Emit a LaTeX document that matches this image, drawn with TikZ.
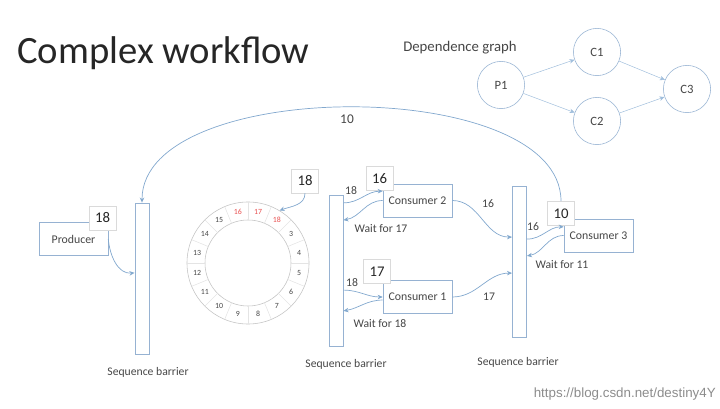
\documentclass[tikz,border=0pt]{standalone}
\usepackage{fontspec}
\setmainfont{Carlito}
\newfontfamily\urlfont{Liberation Sans}
\usetikzlibrary{arrows.meta,calc}
\definecolor{boxline}{RGB}{150,178,210}
\definecolor{arrowc}{RGB}{130,168,206}
\definecolor{depc}{RGB}{160,190,220}
\definecolor{txt}{RGB}{70,70,70}
\definecolor{numline}{RGB}{218,218,218}
\definecolor{ringc}{RGB}{195,195,195}
\definecolor{ringred}{RGB}{232,80,80}

\begin{document}
\begin{tikzpicture}[x=0.025cm, y=0.025cm,
    every node/.style={text=txt, inner sep=0pt},
    worker/.style={rectangle, draw=boxline, fill=white, minimum width=1.725cm, minimum height=0.83cm, font=\fontsize{8.4}{10}\selectfont},
    seqno/.style={rectangle, draw=numline, fill=white, minimum width=0.68cm, minimum height=0.6cm, text=black!85, font=\fontsize{10.5}{12}\selectfont},
    barrier/.style={rectangle, draw=boxline, minimum width=0.36cm, minimum height=3.78cm},
    dep/.style={circle, draw=boxline, minimum size=1.18cm, font=\fontsize{9}{11}\selectfont},
    link/.style={-{Stealth[length=3.6pt,width=3.2pt]}, draw=arrowc, line width=0.5pt},
    thin link/.style={link, draw=depc, line width=0.35pt},
    lbl/.style={font=\fontsize{8.3}{10}\selectfont},
    ringno/.style={font=\fontsize{5.6}{6}\selectfont}]
    \useasboundingbox (0, 0) rectangle (720, 408);

    \node (T) [anchor=base west, text=black!85, font=\fontsize{27.5}{30}\selectfont] at (17, 344) {Complex workflow};

    \node (G) [lbl, font=\fontsize{10.5}{12}\selectfont] at (460, 360) {Dependence graph};
    \node (P1) [dep] at (501, 323) {P1};
    \node (C1) [dep] at (597, 356) {C1};
    \node (C2) [dep] at (597, 287) {C2};
    \node (C3) [dep] at (687, 319) {C3};
    \draw [thin link] (P1) -- (C1);
    \draw [thin link] (P1) -- (C2);
    \draw [thin link] (C1) -- (C3);
    \draw [thin link] (C2) -- (C3);

    \node (B1) [barrier] at (142, 129.5) {};
    \node (B2) [barrier] at (336, 137.5) {};
    \node (B3) [barrier] at (519.5, 146.5) {};
    \node (L1) [lbl] at (148, 36) {Sequence barrier};
    \node (L2) [lbl] at (346, 44) {Sequence barrier};
    \node (L3) [lbl] at (518, 46) {Sequence barrier};

    \node (R) [circle, draw=ringc, minimum size=3.05cm] at (248, 145) {};
    \node (Ri) [circle, draw=ringc, minimum size=2.15cm] at (248, 145) {};
    \foreach \a in {0, 22.5, ..., 337.5}
        \draw [ringc!45] ($(R)+(\a:43)$) -- ($(R)+(\a:61)$);
    \foreach \n/\c [count=\i from 0] in {16/ringred, 17/ringred, 18/ringred, 3/txt, 4/txt, 5/txt, 6/txt, 7/txt, 8/txt, 9/txt, 10/txt, 11/txt, 12/txt, 13/txt, 14/txt, 15/txt}
        \node (n\n) [ringno, text=\c] at ($(R)+({101.25-22.5*\i}:52)$) {\n};

    \node (P) [worker] at (73.5, 169) {Producer};
    \node (S18p) [seqno] at (102.5, 190) {18};
    \node (K2) [worker] at (417.5, 207.5) {Consumer 2};
    \node (S16) [seqno] at (379.5, 229.5) {16};
    \node (K1) [worker] at (417.5, 111) {Consumer 1};
    \node (S17) [seqno] at (377, 136.5) {17};
    \node (K3) [worker] at (598.5, 172.5) {Consumer 3};
    \node (S10) [seqno] at (561, 194.5) {10};
    \node (S18r) [seqno] at (305, 227) {18};

    \draw [link] (P.east) to [out=-85, in=185] ([yshift=0.14cm]B1.west);
    \draw [link] (S18r.south) to [out=-90, in=20] (R.59);
    \draw [link] ([yshift=1.69cm]B2.east) to [out=0, in=180] (K2.165);
    \draw [link] (K2.west) to [out=180, in=10] ([yshift=1.26cm]B2.east);
    \draw [link] ([yshift=-0.49cm]B2.east) to [out=0, in=180] (K1.west);
    \draw [link] (K1.185) to [out=180, in=10] ([yshift=-1.01cm]B2.east);
    \draw [link] (K2.east) to [out=0, in=180] ([yshift=0.61cm]B3.west);
    \draw [link] (K1.east) to [out=0, in=180] ([yshift=-0.29cm]B3.west);
    \draw [link] ([yshift=0.56cm]B3.east) to [out=0, in=180] (K3.166);
    \draw [link] (K3.west) to [out=180, in=10] ([yshift=0.14cm]B3.east);
    \draw [link] (S10.north) to [out=90, in=90, looseness=0.77] (B1.north);

    \node (a1) [lbl] at (351, 217) {18};
    \node (w17) [lbl] at (381, 179) {Wait for 17};
    \node (a2) [lbl] at (352, 125) {18};
    \node (w18) [lbl] at (380, 84) {Wait for 18};
    \node (a3) [lbl] at (488, 204) {16};
    \node (a4) [lbl] at (489, 111) {17};
    \node (a5) [lbl] at (533, 181) {16};
    \node (w11) [lbl] at (562, 143) {Wait for 11};
    \node (a6) [lbl, font=\fontsize{9.5}{11}\selectfont] at (347, 289) {10};

    \node (W) [anchor=east, text=black!45, font=\urlfont\fontsize{9.5}{11}\selectfont] at (716, 14) {https://blog.csdn.net/destiny4Y};
\end{tikzpicture}
\end{document}
